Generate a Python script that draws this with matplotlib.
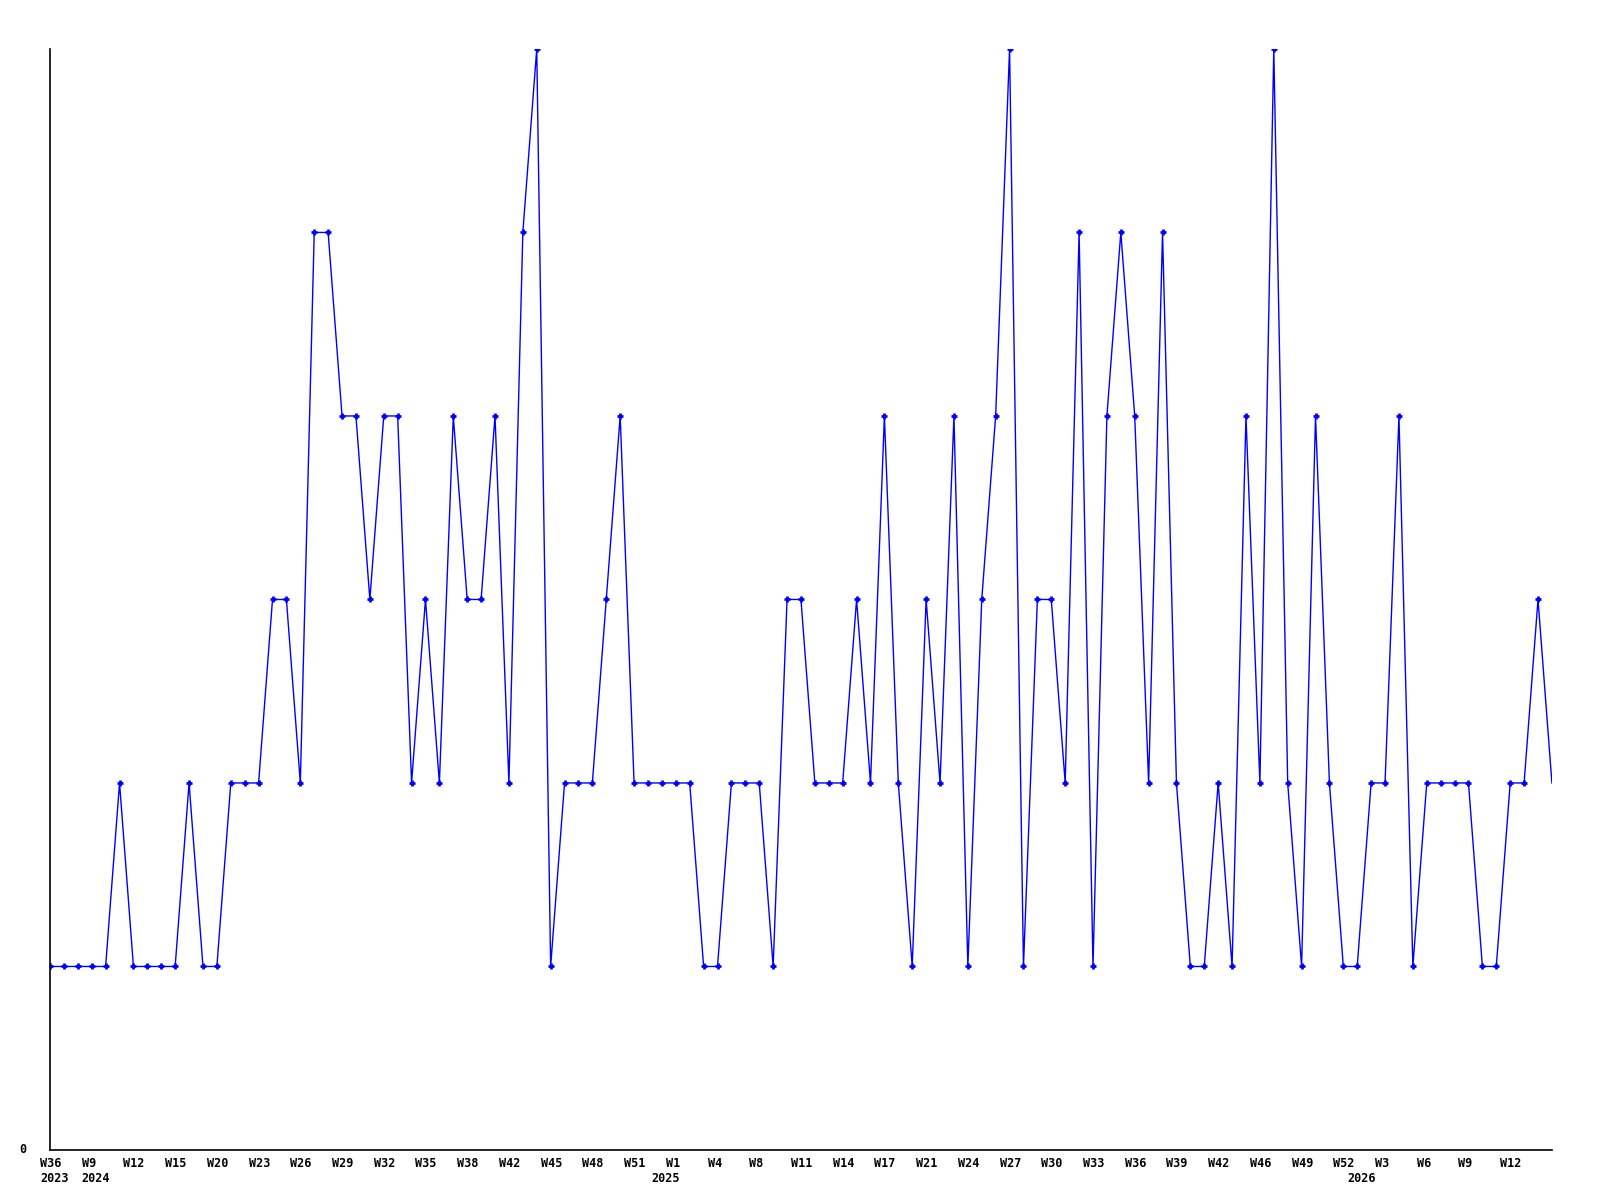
import matplotlib
matplotlib.use("Agg")
import matplotlib.pyplot as plt
import matplotlib.transforms as mtransforms

# weekly counts, one point per week that has data
values = [1, 1, 1, 1, 1, 2, 1, 1, 1, 1,
          2, 1, 1, 2, 2, 2, 3, 3, 2, 5,
          5, 4, 4, 3, 4, 4, 2, 3, 2, 4,
          3, 3, 4, 2, 5, 6, 1, 2, 2, 2,
          3, 4, 2, 2, 2, 2, 2, 1, 1, 2,
          2, 2, 1, 3, 3, 2, 2, 2, 3, 2,
          4, 2, 1, 3, 2, 4, 1, 3, 4, 6,
          1, 3, 3, 2, 5, 1, 4, 5, 4, 2,
          5, 2, 1, 1, 2, 1, 4, 2, 6, 2,
          1, 4, 2, 1, 1, 2, 2, 4, 1, 2,
          2, 2, 2, 1, 1, 2, 2, 3, 2]

# every third point gets a week label
week_labels = ["W36", "W9", "W12", "W15", "W20", "W23", "W26", "W29", "W32",
               "W35", "W38", "W42", "W45", "W48", "W51", "W1", "W4", "W8",
               "W11", "W14", "W17", "W21", "W24", "W27", "W30", "W33", "W36",
               "W39", "W42", "W46", "W49", "W52", "W3", "W6", "W9", "W12"]
year_labels = {0: "2023", 1: "2024", 15: "2025", 32: "2026"}
label_step = 3

x = list(range(len(values)))

fig = plt.figure(figsize=(16, 12), dpi=100)
ax = fig.add_axes([0.03125, 0.0417, 0.9387, 0.9175])

ax.plot(x, values, color="#0000ff", linewidth=1.0,
        marker="+", markersize=5, markeredgewidth=2,
        markevery=list(range(len(values) - 1)))

ax.set_xlim(0, len(values) - 1)
ax.set_ylim(0, 6)

for side in ["top", "right"]:
    ax.spines[side].set_visible(False)
for side in ["left", "bottom"]:
    ax.spines[side].set_color("black")
    ax.spines[side].set_linewidth(1.2)

ax.set_xticks([])
ax.set_yticks([])

font = dict(family="DejaVu Sans Mono", fontweight="bold", fontsize=8.5)

def shifted(px):
    return ax.get_xaxis_transform() + mtransforms.ScaledTranslation(px / 100, 0, fig.dpi_scale_trans)

# labels are left aligned a little before their point
year_shift = {0: -10, 1: -10, 15: -24, 32: -38}
for k, lab in enumerate(week_labels):
    pos = k * label_step
    ax.text(pos, -0.012, lab, transform=shifted(-10), ha="left", va="center", **font)
    if k in year_labels:
        ax.text(pos, -0.026, year_labels[k], transform=shifted(year_shift[k]),
                ha="left", va="center", **font)

ax.text(-0.018, 0, "0", transform=ax.get_yaxis_transform(), ha="center", va="center", **font)

fig.savefig("out.png", dpi=100)
